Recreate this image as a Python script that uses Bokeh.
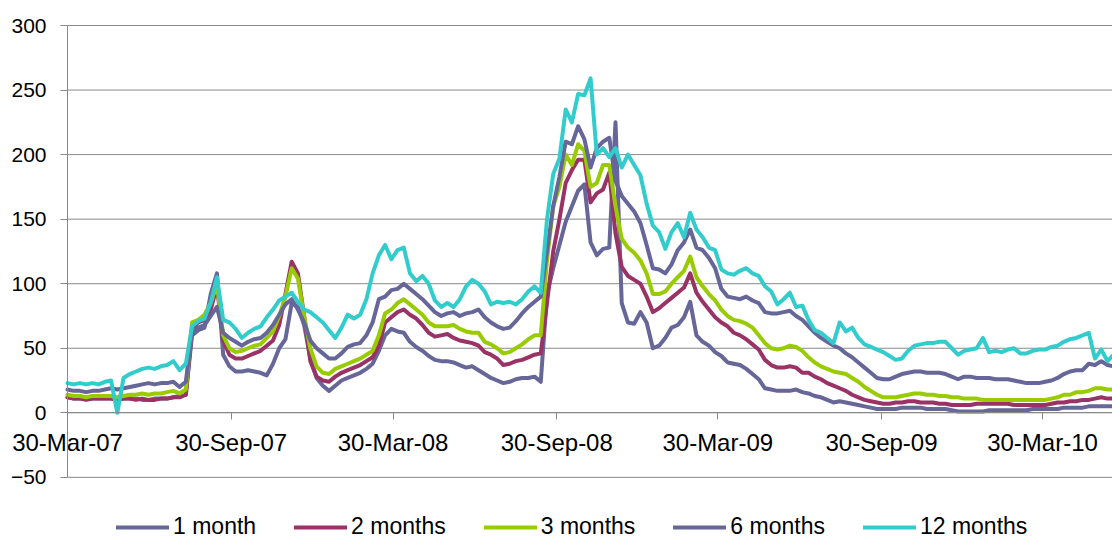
import pandas as pd
from bokeh.plotting import figure
from bokeh.models import ColumnDataSource, FixedTicker, Legend, LegendItem, Range1d
from bokeh.embed import file_html
from bokeh.resources import INLINE

# weekly observation dates (Friday 30-Mar-07 onwards)
first_date = "2007-03-30"
n_weeks = 169
dates = pd.date_range(first_date, periods=n_weeks, freq="7D")

m1 = [12, 11, 11, 11, 11, 11, 11, 11, 10, 11,
      11, 11, 10, 10, 11, 11, 11, 12, 13, 14,
      60, 64, 66, 92, 108, 45, 36, 32, 32, 33,
      32, 31, 29, 38, 50, 57, 85, 82, 68, 42,
      27, 21, 17, 21, 25, 27, 29, 31, 34, 38,
      48, 60, 65, 63, 62, 55, 51, 48, 44, 41,
      40, 40, 39, 37, 35, 36, 33, 30, 27, 25,
      23, 24, 26, 27, 27, 28, 24, 92, 112, 130,
      148, 160, 172, 177, 132, 122, 127, 128, 225, 85,
      70, 69, 78, 70, 50, 52, 58, 66, 68, 74,
      86, 60, 55, 52, 47, 44, 39, 38, 37, 34,
      30, 26, 19, 18, 17, 17, 17, 18, 16, 15,
      13, 12, 10, 8, 9, 8, 7, 6, 5, 4,
      3, 3, 3, 3, 4, 4, 4, 4, 3, 3,
      3, 3, 2, 1, 1, 1, 1, 1, 2, 2,
      2, 2, 2, 2, 2, 3, 3, 3, 3, 3,
      4, 4, 4, 4, 5, 5, 5, 5, 5]

m2 = [12, 11, 11, 10, 11, 11, 11, 11, 10, 11,
      11, 10, 11, 10, 10, 11, 11, 12, 12, 14,
      65, 70, 72, 80, 98, 56, 45, 42, 42, 44,
      46, 48, 52, 56, 68, 92, 117, 108, 75, 40,
      28, 25, 24, 28, 31, 33, 35, 37, 40, 43,
      52, 70, 74, 78, 80, 76, 73, 68, 62, 59,
      60, 61, 58, 56, 55, 54, 52, 47, 45, 42,
      37, 38, 40, 41, 43, 45, 46, 85, 125, 150,
      178, 188, 196, 196, 163, 170, 173, 186, 139, 113,
      106, 103, 100, 90, 78, 81, 85, 89, 93, 97,
      108, 93, 86, 80, 74, 70, 67, 62, 60, 57,
      53, 49, 41, 37, 35, 35, 36, 35, 31, 31,
      28, 26, 23, 21, 19, 17, 14, 12, 10, 9,
      8, 7, 7, 8, 8, 9, 9, 8, 8, 8,
      7, 7, 6, 6, 6, 6, 7, 7, 7, 7,
      7, 7, 6, 6, 6, 6, 6, 6, 7, 8,
      8, 9, 9, 10, 10, 11, 12, 11, 11]

m3 = [14, 13, 13, 12, 13, 13, 13, 13, 12, 13,
      14, 14, 15, 14, 15, 15, 16, 17, 15, 18,
      70, 72, 76, 85, 100, 60, 50, 47, 48, 50,
      52, 53, 58, 63, 75, 90, 112, 104, 75, 50,
      36, 31, 30, 34, 36, 38, 40, 42, 45, 48,
      60, 77, 80, 85, 88, 84, 80, 76, 70, 67,
      67, 67, 68, 65, 63, 62, 62, 55, 53, 50,
      46, 47, 50, 53, 57, 60, 60, 118, 160, 175,
      200, 192, 208, 203, 175, 178, 192, 192, 160, 135,
      128, 124, 118, 108, 92, 92, 94, 100, 105, 110,
      121, 105, 98, 92, 87, 80, 75, 72, 71, 69,
      66, 60, 54, 50, 49, 50, 52, 51, 48, 43,
      39, 36, 34, 32, 31, 30, 27, 24, 20, 17,
      14, 12, 12, 12, 13, 14, 15, 15, 14, 14,
      13, 13, 12, 12, 11, 11, 11, 10, 10, 10,
      10, 10, 10, 10, 10, 10, 10, 10, 11, 12,
      14, 14, 16, 16, 17, 19, 19, 18, 18]

m6 = [18, 17, 17, 16, 17, 17, 18, 19, 18, 19,
      20, 21, 22, 23, 22, 23, 23, 24, 20, 24,
      63, 66, 68, 75, 82, 62, 58, 55, 52, 55,
      57, 58, 62, 68, 76, 84, 88, 80, 70, 56,
      50, 46, 42, 42, 46, 51, 53, 54, 60, 70,
      88, 90, 95, 96, 100, 96, 92, 88, 83, 78,
      75, 77, 78, 75, 77, 78, 80, 74, 70, 67,
      65, 66, 71, 77, 82, 86, 90, 125, 160, 183,
      210, 208, 222, 212, 190, 205, 210, 213, 180, 168,
      162, 156, 147, 130, 112, 111, 108, 115, 126, 132,
      142, 128, 126, 120, 112, 96, 90, 89, 88, 90,
      87, 85, 78, 77, 77, 78, 79, 75, 72, 67,
      62, 58, 55, 52, 50, 46, 43, 39, 35, 31,
      27, 26, 26, 28, 30, 31, 32, 32, 31, 31,
      31, 30, 28, 26, 28, 28, 27, 27, 27, 26,
      26, 26, 25, 24, 23, 23, 23, 24, 25, 27,
      30, 32, 33, 33, 38, 37, 40, 37, 36]

m12 = [23, 22, 23, 22, 23, 22, 24, 25, 0, 27,
       30, 32, 34, 35, 34, 36, 37, 40, 33, 38,
       67, 71, 73, 85, 105, 72, 70, 65, 58, 62,
       65, 67, 74, 80, 87, 90, 93, 86, 80, 78,
       74, 70, 64, 58, 66, 76, 73, 76, 88, 108,
       122, 130, 119, 126, 128, 108, 102, 106, 100, 87,
       82, 85, 82, 88, 98, 103, 100, 94, 84, 86,
       85, 86, 84, 88, 94, 98, 93, 150, 185, 197,
       235, 225, 247, 246, 259, 200, 205, 198, 205, 190,
       200, 192, 184, 162, 145, 140, 127, 140, 147, 136,
       155, 142, 136, 128, 126, 111, 108, 107, 110, 112,
       108, 106, 98, 94, 84, 88, 93, 82, 83, 72,
       64, 62, 58, 54, 70, 63, 66, 58, 53, 51,
       49, 47, 44, 41, 42, 48, 52, 53, 54, 54,
       55, 55, 50, 45, 48, 49, 50, 58, 47, 48,
       47, 49, 50, 46, 46, 48, 49, 49, 51, 52,
       55, 57, 58, 60, 62, 42, 49, 40, 45]

series_names = ["1 month", "2 months", "3 months", "6 months", "12 months"]
series_cols = ["m1", "m2", "m3", "m6", "m12"]
series_colors = ["#666699", "#993366", "#99CC00", "#666699", "#33CCCC"]

tick_dates = ["2007-03-30", "2007-09-30", "2008-03-30", "2008-09-30",
              "2009-03-30", "2009-09-30", "2010-03-30"]
tick_labels = ["30-Mar-07", "30-Sep-07", "30-Mar-08", "30-Sep-08",
               "30-Mar-09", "30-Sep-09", "30-Mar-10"]
y_ticks = [-50, 0, 50, 100, 150, 200, 250, 300]

source = ColumnDataSource(data=dict(date=dates, m1=m1, m2=m2, m3=m3, m6=m6, m12=m12))

# ---- layout: the frame covers the whole canvas, axes are drawn inside it ----
FRAME_W, FRAME_H = 1112, 541
PX_PER_DAY = 0.8896
PX_PER_UNIT = 1.291
AXIS_X_PX = 67      # position of the value axis from the left edge
TOP_PX = 25         # position of the 300 line from the top edge

axis_date = pd.Timestamp(first_date)
x_start = axis_date - pd.Timedelta(days=AXIS_X_PX / PX_PER_DAY)
x_end = axis_date + pd.Timedelta(days=(FRAME_W - AXIS_X_PX) / PX_PER_DAY)
y_top = max(y_ticks) + TOP_PX / PX_PER_UNIT
y_bottom = max(y_ticks) - (FRAME_H - TOP_PX) / PX_PER_UNIT

FONT = "Liberation Sans"
GRAY = "#8a8a8a"

p = figure(frame_width=FRAME_W, frame_height=FRAME_H, x_axis_type="datetime",
           x_range=Range1d(x_start, x_end), y_range=Range1d(y_bottom, y_top),
           output_backend="svg", toolbar_location=None,
           min_border_left=0, min_border_right=0, min_border_top=0, min_border_bottom=0)

p.outline_line_color = None
p.background_fill_color = "white"
p.border_fill_color = "white"
p.xgrid.visible = False
p.ygrid.visible = False

# horizontal gridlines, from the value axis to the right edge
p.segment(x0=[axis_date] * len(y_ticks), y0=y_ticks, x1=[x_end] * len(y_ticks), y1=y_ticks,
          line_color=GRAY, line_width=1)

renderers = []
for col, color in zip(series_cols, series_colors):
    r = p.line(x="date", y=col, source=source, line_color=color, line_width=4,
               line_join="round", line_cap="round")
    renderers.append(r)

# value axis, crossing at 30-Mar-07
p.yaxis.fixed_location = axis_date.value // 10**6
p.yaxis.bounds = (min(y_ticks), max(y_ticks))
p.yaxis.ticker = FixedTicker(ticks=y_ticks)
p.yaxis.axis_line_color = GRAY
p.yaxis.major_tick_line_color = GRAY
p.yaxis.major_tick_out = 7
p.yaxis.major_tick_in = 0
p.yaxis.minor_tick_line_color = None
p.yaxis.major_label_text_font = FONT
p.yaxis.major_label_text_font_size = "21px"
p.yaxis.major_label_text_color = "black"
p.yaxis.major_label_standoff = 14

# date axis, crossing at zero
tick_ms = [int(pd.Timestamp(d).value // 10**6) for d in tick_dates]
p.xaxis.fixed_location = 0
p.xaxis.bounds = (axis_date, x_end)
p.xaxis.ticker = FixedTicker(ticks=tick_ms)
p.xaxis.major_label_overrides = {t: lab for t, lab in zip(tick_ms, tick_labels)}
p.xaxis.axis_line_color = GRAY
p.xaxis.major_tick_line_color = GRAY
p.xaxis.major_tick_out = 7
p.xaxis.major_tick_in = 0
p.xaxis.minor_tick_line_color = None
p.xaxis.major_label_text_font = FONT
p.xaxis.major_label_text_font_size = "24px"
p.xaxis.major_label_text_color = "black"
p.xaxis.major_label_standoff = 9

legend = Legend(items=[LegendItem(label=n, renderers=[r]) for n, r in zip(series_names, renderers)],
                orientation="horizontal", location=(116, 1),
                glyph_width=53, glyph_height=22, label_height=22, label_standoff=4, spacing=38,
                label_text_font=FONT, label_text_font_size="23px", label_text_color="black",
                padding=0, margin=0, border_line_color=None, background_fill_alpha=0)
p.add_layout(legend)

open("out.html", "w").write(file_html(p, INLINE))
